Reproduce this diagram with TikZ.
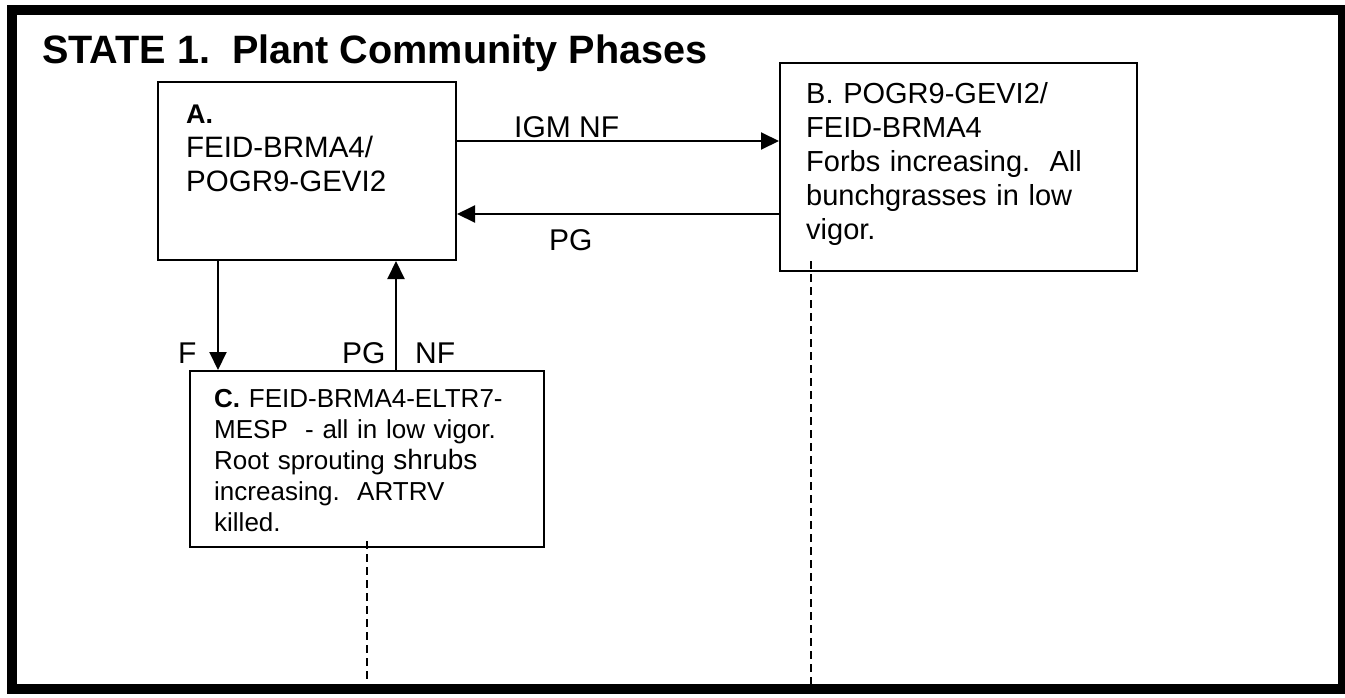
\documentclass[tikz,border=0pt]{standalone}
\usepackage{fontspec}
\setmainfont{Liberation Sans}
\usetikzlibrary{arrows.meta}
\begin{document}
\begin{tikzpicture}[x=1pt,y=-1pt,
  box/.style={draw, line width=2pt, inner sep=0pt},
  txt/.style={anchor=base west, inner sep=0pt, text width=400pt, align=left},
  lbl/.style={anchor=base west, inner sep=0pt, font=\fontsize{30}{34}\selectfont},
  arr/.style={line width=2pt, -{Triangle[length=18pt,width=17pt]}},
  dashline/.style={line width=2.4pt, dash pattern=on 8pt off 5pt},
  frame/.style={draw, line width=10pt, inner sep=0pt}]
\useasboundingbox (0,0) rectangle (1345,697);
\clip (0,0) rectangle (1345,697);
\node[frame, minimum width=1331pt, minimum height=679pt] (frame) at (677.5,349.5) {};
\node[anchor=base west, inner sep=0pt, font=\fontsize{39.6}{44}\selectfont\bfseries] (title) at (42,63) {STATE 1.\ \ Plant Community Phases};
% boxes
\node[box, minimum width=298pt, minimum height=178pt] (A) at (307,171) {};
\node[box, minimum width=357pt, minimum height=208pt] (B) at (958.5,167) {};
\node[box, minimum width=354pt, minimum height=176pt] (C) at (367,459) {};
% box texts
\node[txt, font=\fontsize{29.5}{34}\selectfont] (Atext) at (186,123) {{\fontsize{27}{34}\selectfont\bfseries A.}\\FEID-BRMA4/\\POGR9-GEVI2};
\node[txt, font=\fontsize{29}{34}\selectfont] (Btext) at (806,103) {B. POGR9-GEVI2/\\FEID-BRMA4\\Forbs increasing.\ \ All\\bunchgrasses in low\\vigor.};
\node[txt, font=\fontsize{26}{31}\selectfont] (Ctext) at (214,407) {{\bfseries C.} FEID-BRMA4-ELTR7-\\MESP\ \ - all in low vigor.\\Root sprouting {\fontsize{28}{31}\selectfont shrubs}\\increasing.\ \ ARTRV\\killed.};
% connectors
\draw[arr] ([yshift=30pt]A.east) -- ([yshift=30pt]A.east -| B.west);
\draw[arr] ([yshift=-43pt]A.east -| B.west) -- ([yshift=-43pt]A.east);
\draw[arr] ([xshift=-89pt]A.south) -- ([xshift=-89pt]A.south |- C.north);
\draw[arr] ([xshift=89pt]A.south |- C.north) -- ([xshift=89pt]A.south);
% labels
\node[lbl] (igm) at (514,137) {IGM NF};
\node[lbl] (pg1) at (549,250) {PG};
\node[lbl] (f) at (178,363) {F};
\node[lbl] (pg2) at (342,363) {PG};
\node[lbl] (nf) at (415,363) {NF};
% dashed lines
\draw[dashline] ([yshift=7pt]C.south) -- (C.south |- frame.south);
\draw[dashline] ([xshift=-147.5pt,yshift=11pt]B.south) -- ([xshift=-147.5pt]B.south |- frame.south);
\end{tikzpicture}
\end{document}
